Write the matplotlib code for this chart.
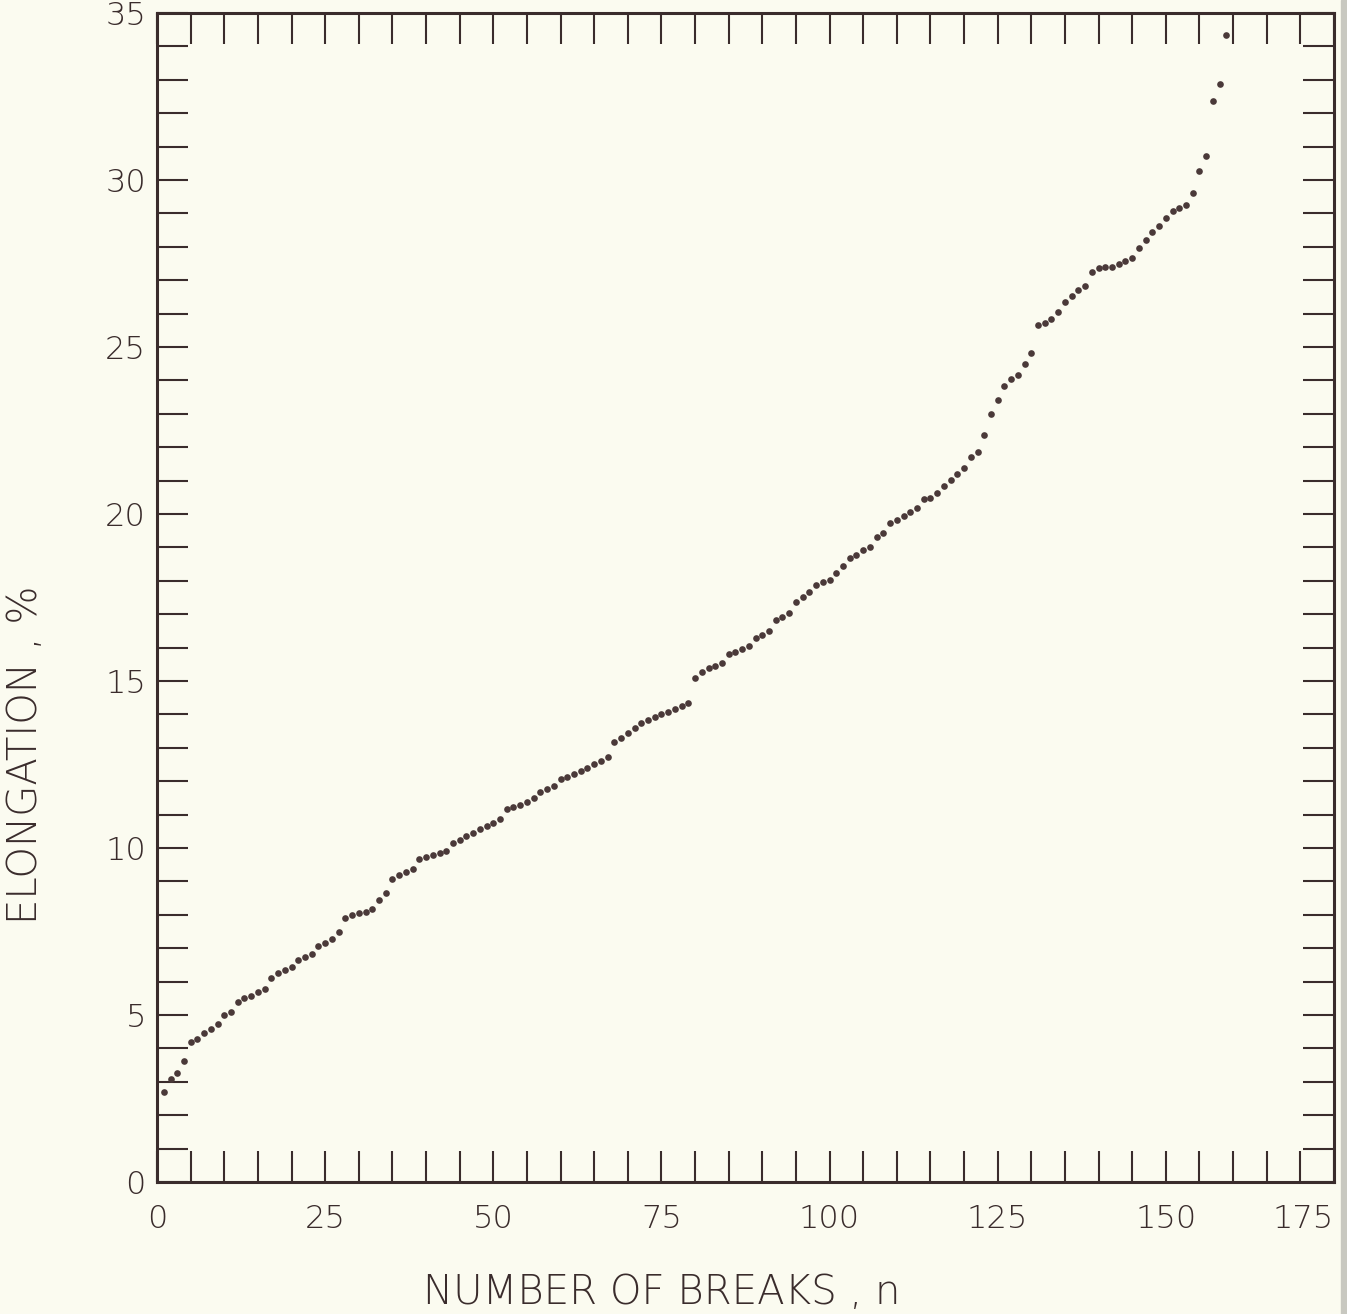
import matplotlib
matplotlib.use('Agg')
import matplotlib.pyplot as plt
from matplotlib.ticker import MultipleLocator
from matplotlib.patches import Rectangle

# elongation (%) of each break, sorted
elongation = [2.70, 3.08, 3.25, 3.63, 4.20, 4.27, 4.47, 4.58, 4.73, 5.00,
              5.10, 5.40, 5.50, 5.58, 5.70, 5.77, 6.10, 6.27, 6.35, 6.43,
              6.65, 6.75, 6.83, 7.05, 7.15, 7.27, 7.49, 7.90, 7.98, 8.04,
              8.09, 8.16, 8.44, 8.64, 9.06, 9.19, 9.29, 9.36, 9.66, 9.74,
              9.79, 9.84, 9.90, 10.14, 10.24, 10.35, 10.45, 10.56, 10.66, 10.76,
              10.87, 11.16, 11.22, 11.29, 11.39, 11.49, 11.69, 11.78, 11.87, 12.06,
              12.13, 12.20, 12.30, 12.40, 12.50, 12.60, 12.72, 13.18, 13.30, 13.45,
              13.58, 13.73, 13.82, 13.92, 14.00, 14.08, 14.17, 14.26, 14.35, 15.08,
              15.28, 15.38, 15.46, 15.55, 15.81, 15.88, 15.96, 16.05, 16.28, 16.38,
              16.51, 16.83, 16.93, 17.03, 17.35, 17.50, 17.67, 17.87, 17.95, 18.02,
              18.24, 18.44, 18.67, 18.77, 18.92, 19.02, 19.32, 19.42, 19.72, 19.82,
              19.94, 20.07, 20.17, 20.44, 20.48, 20.62, 20.84, 21.02, 21.19, 21.39,
              21.72, 21.87, 22.37, 22.99, 23.42, 23.83, 24.03, 24.16, 24.48, 24.83,
              25.66, 25.73, 25.83, 26.06, 26.36, 26.53, 26.71, 26.83, 27.26, 27.36,
              27.40, 27.40, 27.48, 27.56, 27.67, 27.96, 28.20, 28.45, 28.62, 28.85,
              29.07, 29.15, 29.25, 29.62, 30.27, 30.73, 32.37, 32.87, 34.34]
n_breaks = list(range(1, len(elongation) + 1))

x_ticklabels = ['0', '25', '50', '75', '100', '125', '150', '175']
y_ticklabels = ['0', '5', '10', '15', '20', '25', '30', '35']

paper = '#fbfbf0'
ink = '#3a2c2c'

plt.rcParams['font.family'] = ['DejaVu Sans']
plt.rcParams['font.weight'] = 'light'

fig = plt.figure(figsize=(13.47, 13.14), dpi=100, facecolor=paper)
ax = fig.add_axes([0.1166, 0.1005, 0.8737, 0.8896], facecolor=paper)

ax.plot(n_breaks, elongation, 'o', color='#4a3939', markersize=4.8, markeredgewidth=0)

ax.set_xlim(0, 175)
ax.set_ylim(0, 35)

ax.set_xticks(range(0, 176, 25))
ax.set_xticklabels(x_ticklabels)
ax.set_yticks(range(0, 36, 5))
ax.set_yticklabels(y_ticklabels)
ax.xaxis.set_minor_locator(MultipleLocator(5))
ax.yaxis.set_minor_locator(MultipleLocator(1))

# ticks on all four sides, pointing in
ax.tick_params(which='both', direction='in', top=True, right=True,
               length=22, width=1.5, color=ink)
ax.tick_params(axis='x', which='major', labelsize=23, labelcolor=ink, pad=16)
ax.tick_params(axis='y', which='major', labelsize=23, labelcolor=ink, pad=8)

# last x label sits flush with the right frame, as in the original
ax.get_xticklabels()[-1].set_horizontalalignment('right')

for s in ax.spines.values():
    s.set_linewidth(2.2)
    s.set_color(ink)

fig.text(0.4911, 0.0167, 'NUMBER OF BREAKS , n', ha='center', va='center',
         fontsize=29, color=ink)
fig.text(0.0193, 0.4254, 'ELONGATION , %', ha='center', va='center',
         rotation=90, fontsize=29, color=ink)

# grey page edge at the right of the scan
fig.patches.append(Rectangle((0.9955, 0), 0.0045, 1, transform=fig.transFigure,
                             color='#c8c8c0', zorder=0))

fig.savefig('out.png', dpi=100, facecolor=paper)
